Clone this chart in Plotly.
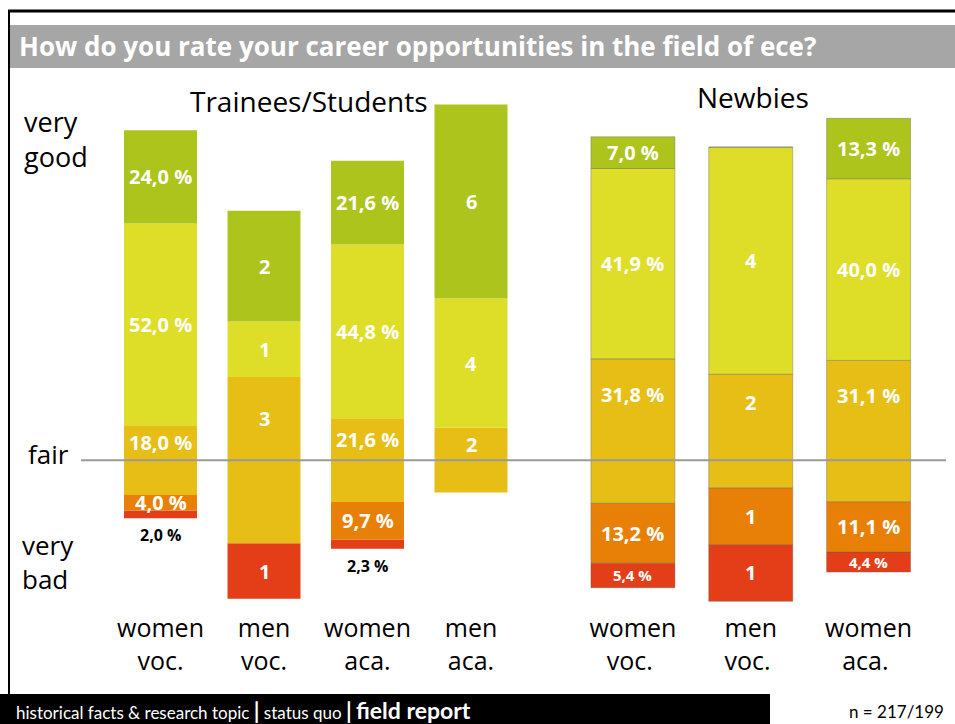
import plotly.graph_objects as go

# ---------------- data ----------------
levels = ["very bad", "bad", "fair", "good", "very good"]

trainee_groups = ["women<br>voc.", "men<br>voc.", "women<br>aca.", "men<br>aca."]
trainee_is_count = [False, True, False, True]
trainee_very_good = [24.0, 2, 21.6, 6]
trainee_good = [52.0, 1, 44.8, 4]
trainee_fair = [18.0, 3, 21.6, 2]
trainee_bad = [4.0, 0, 9.7, 0]
trainee_very_bad = [2.0, 1, 2.3, 0]

newbie_groups = ["women<br>voc. ", "men<br>voc. ", "women<br>aca. "]
newbie_is_count = [False, True, False]
newbie_very_good = [7.0, 0, 13.3]
newbie_good = [41.9, 4, 40.0]
newbie_fair = [31.8, 2, 31.1]
newbie_bad = [13.2, 1, 11.1]
newbie_very_bad = [5.4, 1, 4.4]

sample_note = "n = 217/199"

# ---------------- style ----------------
colors = {
    "very good": "#acc41c",
    "good": "#dede28",
    "fair": "#e6be16",
    "bad": "#e88008",
    "very bad": "#e43e18",
}
FONT = "Open Sans"
FOOT = "Lato"
W, H = 955, 724

# axis ranges (value 0 = middle of the "fair" segment)
t_range = [-68.0, 118.6]
n_range = [-64.5, 94.9]


def build(groups, is_count, series, xa, ya, yrange, width, shadow):
    traces, annos = [], []
    n = len(groups)
    totals = [sum(series[l][i] for l in levels) for i in range(n)]
    pct = {l: [(series[l][i] / totals[i] * 100 if is_count[i] else series[l][i])
               for i in range(n)] for l in levels}
    start = [-(pct["fair"][i] / 2 + pct["bad"][i] + pct["very bad"][i]) for i in range(n)]
    px_per_unit = H / (yrange[1] - yrange[0])
    cum = list(start)
    for l in levels:
        bases = list(cum)
        traces.append(go.Bar(
            x=groups, y=pct[l], base=bases, width=width,
            marker=dict(color=colors[l],
                        line=dict(color="rgba(90,90,90,0.35)" if shadow else colors[l],
                                  width=1 if shadow else 0)),
            xaxis=xa, yaxis=ya, showlegend=False, hoverinfo="skip"))
        for i in range(n):
            v = series[l][i]
            if v == 0:
                continue
            txt = str(int(v)) if is_count[i] else f"{v:.1f}".replace(".", ",") + " %"
            seg_px = pct[l][i] * px_per_unit
            xr = "x" if xa == "x" else "x2"
            yr = "y" if ya == "y" else "y2"
            if seg_px < 12:
                annos.append(dict(x=groups[i], y=bases[i], xref=xr, yref=yr,
                                  text=f"<b>{txt}</b>", showarrow=False, yanchor="top",
                                  yshift=-4, font=dict(family=FONT, size=16, color="black")))
                continue
            if l == "fair":
                yv = bases[i] + pct[l][i] * 0.75
            else:
                yv = bases[i] + pct[l][i] / 2
            size = 15 if (18 <= seg_px < 27) else 20
            annos.append(dict(x=groups[i], y=yv, xref=xr, yref=yr,
                              text=f"<b>{txt}</b>", showarrow=False,
                              font=dict(family=FONT, size=size, color="white")))
        cum = [cum[i] + pct[l][i] for i in range(n)]
    return traces, annos


t_series = {"very good": trainee_very_good, "good": trainee_good, "fair": trainee_fair,
            "bad": trainee_bad, "very bad": trainee_very_bad}
n_series = {"very good": newbie_very_good, "good": newbie_good, "fair": newbie_fair,
            "bad": newbie_bad, "very bad": newbie_very_bad}

t_tr, t_an = build(trainee_groups, trainee_is_count, t_series, "x", "y", t_range, 0.705, False)
n_tr, n_an = build(newbie_groups, newbie_is_count, n_series, "x2", "y2", n_range, 0.713, True)

fig = go.Figure(data=t_tr + n_tr)


def px(x):
    return x / W


def py(y):
    return 1 - y / H


shapes = [
    # title band
    dict(type="rect", xref="paper", yref="paper", x0=px(10), x1=1, y0=py(68), y1=py(25),
         fillcolor="#a6a6a6", line=dict(width=0), layer="below"),
    # frame
    dict(type="line", xref="paper", yref="paper", x0=px(8), x1=1, y0=py(11), y1=py(11),
         line=dict(color="black", width=3)),
    dict(type="line", xref="paper", yref="paper", x0=px(9), x1=px(9), y0=py(11), y1=py(694),
         line=dict(color="black", width=2)),
    # footer band
    dict(type="rect", xref="paper", yref="paper", x0=0, x1=px(770), y0=0, y1=py(694),
         fillcolor="black", line=dict(width=0)),
    # fair line
    dict(type="line", xref="paper", yref="y", x0=px(81), x1=px(946), y0=0, y1=0,
         line=dict(color="#9a9a9a", width=2), layer="above"),
]

annos = t_an + n_an + [
    dict(x=px(17), y=py(46), xref="paper", yref="paper", xanchor="left", yanchor="middle",
         text="<b>How do you rate your career opportunities in the field of ece?</b>",
         showarrow=False, font=dict(family=FONT, size=26, color="white")),
    dict(x=px(309), y=py(101), xref="paper", yref="paper", xanchor="center", yanchor="middle",
         text="Trainees/Students", showarrow=False, font=dict(family=FONT, size=28, color="black")),
    dict(x=px(753), y=py(97), xref="paper", yref="paper", xanchor="center", yanchor="middle",
         text="Newbies", showarrow=False, font=dict(family=FONT, size=28, color="black")),
    dict(x=px(22), y=py(139), xref="paper", yref="paper", xanchor="left", yanchor="middle",
         text="very<br>good", showarrow=False, align="left",
         font=dict(family=FONT, size=27, color="black")),
    dict(x=px(26), y=py(454), xref="paper", yref="paper", xanchor="left", yanchor="middle",
         text="fair", showarrow=False, font=dict(family=FONT, size=26, color="black")),
    dict(x=px(20), y=py(562), xref="paper", yref="paper", xanchor="left", yanchor="middle",
         text="very<br>bad", showarrow=False, align="left",
         font=dict(family=FONT, size=26, color="black")),
    dict(x=px(14), y=py(710), xref="paper", yref="paper", xanchor="left", yanchor="middle",
         text=("historical facts &amp; research topic "
               "<span style='font-size:22px'><b>|</b></span> status quo "
               "<span style='font-size:22px'><b>|</b></span> "
               "<span style='font-size:23px'><b>field report</b></span>"),
         showarrow=False, font=dict(family=FOOT, size=17, color="white")),
    dict(x=px(946), y=py(711), xref="paper", yref="paper", xanchor="right", yanchor="middle",
         text=sample_note, showarrow=False, font=dict(family=FOOT, size=17, color="black")),
]

axis_common = dict(showgrid=False, zeroline=False, showline=False, ticks="",
                   tickfont=dict(family=FONT, size=25, color="black"), fixedrange=True)

fig.update_layout(
    width=W, height=H, margin=dict(l=0, r=0, t=0, b=0),
    paper_bgcolor="white", plot_bgcolor="rgba(0,0,0,0)",
    barmode="overlay", showlegend=False,
    xaxis=dict(domain=[px(108.75), px(522.75)], range=[-0.5, 3.5], anchor="free",
               position=py(611), type="category", **axis_common),
    xaxis2=dict(domain=[px(574), px(927.5)], range=[-0.5, 2.5], anchor="free",
                position=py(611), type="category", **axis_common),
    yaxis=dict(domain=[0, 1], range=t_range, visible=False, anchor="x", fixedrange=True),
    yaxis2=dict(domain=[0, 1], range=n_range, visible=False, anchor="x2", fixedrange=True),
    shapes=shapes, annotations=annos,
)

fig.write_html("out.html", include_plotlyjs=True, config={"displayModeBar": False},
               post_script="document.body.style.margin='0px';document.body.style.overflow='hidden';")
